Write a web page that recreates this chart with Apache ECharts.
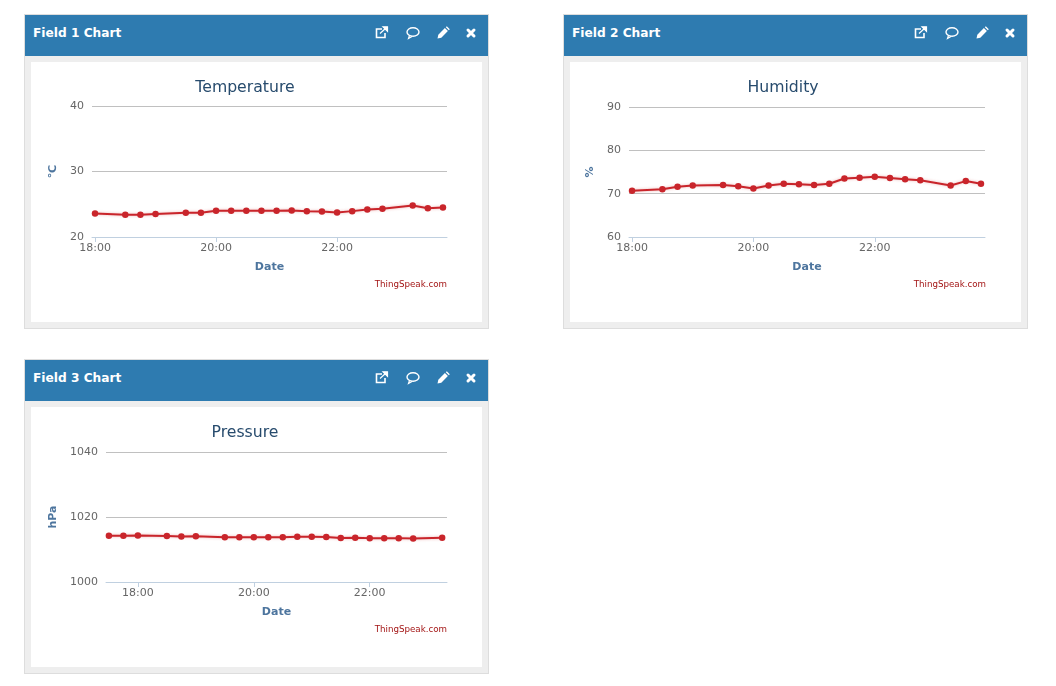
<!DOCTYPE html>
<html>
<head>
<meta charset="utf-8">
<title>ThingSpeak fields</title>
<script src="https://cdn.jsdelivr.net/npm/echarts@6/dist/echarts.min.js"></script>
<style>
html, body { margin: 0; padding: 0; background: #fff; }
body { width: 1056px; height: 686px; position: relative; overflow: hidden; font-family: "DejaVu Sans", sans-serif; }
.panel { position: absolute; width: 463px; height: 313px; background: #eee; border: 1px solid #ddd; }
.head { height: 41px; background: #2e7bb0; color: #fff; font-size: 12.2px; font-weight: bold; line-height: 36px; padding-left: 8px; position: relative; }
.head svg { position: absolute; top: 10px; width: 16px; height: 16px; }
.chart { position: absolute; left: 6px; top: 47px; width: 451px; height: 260px; background: #fff; }
</style>
</head>
<body>
<div class="panel" style="left:24px;top:14px"><div class="head">Field 1 Chart</div><div class="chart" id="field1"></div></div>
<div class="panel" style="left:563px;top:14px"><div class="head">Field 2 Chart</div><div class="chart" id="field2"></div></div>
<div class="panel" style="left:24px;top:359px"><div class="head">Field 3 Chart</div><div class="chart" id="field3"></div></div>
<script>
// 前两个图表共用同一组时间
var times = ['18:00', '18:30', '18:45', '19:00', '19:30', '19:45', '20:00', '20:15', '20:30', '20:45', '21:00',
    '21:15', '21:30', '21:45', '22:00', '22:15', '22:30', '22:45', '23:15', '23:30', '23:45'];
var pressureTimes = ['17:30', '17:45', '18:00', '18:30', '18:45', '19:00', '19:30', '19:45', '20:00', '20:15', '20:30',
    '20:45', '21:00', '21:15', '21:30', '21:45', '22:00', '22:15', '22:30', '22:45', '23:15'];
var temperature = [23.6, 23.4, 23.4, 23.5, 23.7, 23.7, 24, 24, 24, 24, 24,
    24.05, 23.95, 23.9, 23.75, 23.95, 24.2, 24.3, 24.8, 24.4, 24.5];
var humidity = [70.7, 71, 71.6, 71.9, 72, 71.7, 71.2, 71.9, 72.3, 72.2, 72,
    72.3, 73.5, 73.7, 73.9, 73.6, 73.3, 73.1, 71.9, 72.9, 72.3];
var pressure = [1014.25, 1014.25, 1014.3, 1014.15, 1014, 1014.05, 1013.75, 1013.75, 1013.8, 1013.75, 1013.8,
    1013.95, 1013.9, 1013.85, 1013.55, 1013.6, 1013.5, 1013.5, 1013.5, 1013.4, 1013.6];
var timeTicks = ['18:00', '20:00', '22:00'];

function toTime(t) {
    var p = t.split(':');
    return Date.UTC(2020, 0, 1, +p[0], +p[1]);
}

function bindChart(id, cfg) {
    var myChart = echarts.init(document.getElementById(id));
    var ticks = timeTicks.map(toTime);
    myChart.setOption({
        animation: false,
        useUTC: true,
        textStyle: { fontFamily: '"DejaVu Sans", sans-serif' },
        title: [
            { text: cfg.title, left: cfg.titleX, top: 13, textAlign: 'center',
              textStyle: { color: '#274b6d', fontSize: 15.7, fontWeight: 'normal' } },
            { text: 'ThingSpeak.com', right: 30, top: 213,
              textStyle: { color: '#a31515', fontSize: 8.7, fontWeight: 'normal' } }
        ],
        grid: { left: cfg.left, right: cfg.right, top: cfg.top, bottom: 85 },
        xAxis: {
            type: 'time',
            min: toTime(cfg.min),
            max: toTime(cfg.max),
            name: 'Date',
            nameLocation: 'middle',
            nameGap: 25,
            nameTextStyle: { color: '#4d759e', fontSize: 11, fontWeight: 'bold' },
            axisLine: { show: true, lineStyle: { color: '#c0d0e0' } },
            axisTick: { show: true, length: 5, lineStyle: { color: '#c0d0e0' }, customValues: ticks },
            axisLabel: { color: '#666', fontSize: 11, margin: 6, customValues: ticks, formatter: '{HH}:{mm}', hideOverlap: false },
            splitLine: { show: false }
        },
        yAxis: {
            type: 'value',
            min: cfg.yMin,
            max: cfg.yMax,
            interval: cfg.yStep,
            name: cfg.unit,
            nameLocation: 'middle',
            nameRotate: 90,
            nameGap: cfg.nameGap,
            nameTextStyle: { color: '#4d759e', fontSize: 11, fontWeight: 'bold' },
            axisLine: { show: false },
            axisTick: { show: false },
            axisLabel: { color: '#666', fontSize: 11, margin: 8, formatter: function (v) { return String(v); } },
            splitLine: { lineStyle: { color: '#c0c0c0' } }
        },
        series: [{
            type: 'line',
            data: cfg.times.map(function (t, i) { return [toTime(t), cfg.values[i]]; }),
            symbol: 'circle',
            symbolSize: 6.5,
            itemStyle: { color: '#c9252b' },
            lineStyle: { color: '#c9252b', width: 2, shadowColor: 'rgba(200,40,40,0.35)', shadowBlur: 3 }
        }]
    });
}

bindChart('field1', { title: 'Temperature', titleX: 209, left: 61, right: 35, top: 44, unit: '℃', nameGap: 25, times: times, values: temperature,
    min: '17:57', max: '23:49', yMin: 20, yMax: 40, yStep: 10 });
bindChart('field2', { title: 'Humidity', titleX: 208, left: 59, right: 36, top: 45, unit: '%', nameGap: 25, times: times, values: humidity,
    min: '17:57', max: '23:49', yMin: 60, yMax: 90, yStep: 10 });
bindChart('field3', { title: 'Pressure', titleX: 209, left: 75, right: 35, top: 45, unit: 'hPa', nameGap: 35, times: pressureTimes, values: pressure,
    min: '17:27', max: '23:20', yMin: 1000, yMax: 1040, yStep: 20 });

// 标题栏右侧四个图标
var icons = [
    '<path d="M11 8v4.5H2.5V4H8" fill="none" stroke="#fff" stroke-width="1.6"/><path d="M6 8.5l6-5.5M9 1.8h4.5v4.5z" fill="#fff" stroke="#fff" stroke-width="1.2"/>',
    '<ellipse cx="8" cy="7" rx="6" ry="4.3" fill="none" stroke="#fff" stroke-width="1.4"/><path d="M4.5 10.5l-1 3 3.5-2" fill="none" stroke="#fff" stroke-width="1.2"/>',
    '<path d="M2.5 13.5l.8-3.8 6.6-6.6 3 3-6.6 6.6zM10.8 2.2l1-1 3 3-1 1z" fill="#fff"/>',
    '<path d="M5 5l6 6M11 5l-6 6" stroke="#fff" stroke-width="3" stroke-linecap="round"/>'
];
var iconX = [349, 380, 410, 438];
Array.prototype.forEach.call(document.querySelectorAll('.head'), function (head) {
    icons.forEach(function (path, i) {
        var holder = document.createElement('span');
        holder.innerHTML = '<svg viewBox="0 0 16 16" style="left:' + iconX[i] + 'px">' + path + '</svg>';
        head.appendChild(holder);
    });
});
</script>
</body>
</html>
